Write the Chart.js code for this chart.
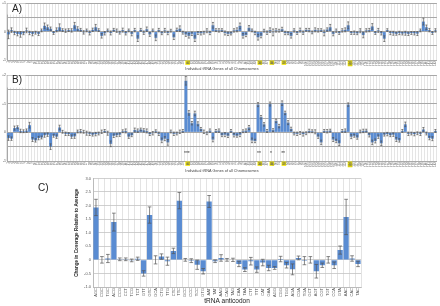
<!DOCTYPE html>
<html>
<head>
<meta charset="utf-8">
<script src="https://cdn.jsdelivr.net/npm/chart.js@4.4.0/dist/chart.umd.min.js"></script>
<style>
  html, body { margin: 0; padding: 0; background: #fff; width: 440px; height: 306px; overflow: hidden; }
  .panel { position: absolute; left: 0; }
</style>
</head>
<body>
<div class="panel" style="top:0px"><canvas id="chartA" width="440" height="72"></canvas></div>
<div class="panel" style="top:72px"><canvas id="chartB" width="440" height="102"></canvas></div>
<div class="panel" style="top:174px"><canvas id="chartC" width="440" height="132"></canvas></div>
<script>
// panel A - coverage change per tRNA gene
const geneValuesA = [
  -0.1, 0.05, -0.05, -0.08, -0.1, -0.06, 0.04, -0.05, -0.08, -0.04,
  -0.08, 0.04, 0.2, 0.15, 0.1, -0.05, 0.06, 0.15, 0.05, 0.03,
  0.05, 0.04, 0.22, 0.1, 0.06, -0.03, 0.04, -0.05, 0.06, 0.15,
  0.05, -0.15, -0.06, 0.04, -0.05, 0.06, 0.03, -0.04, 0.05, -0.06,
  0.04, -0.08, 0.05, -0.25, 0.06, -0.04, 0.08, -0.1, 0.04, -0.22,
  0.05, -0.06, 0.04, -0.05, 0.03, -0.2, 0.06, 0.1, -0.04, -0.1,
  -0.15, -0.08, -0.25, -0.05, -0.06, -0.04, 0.03, -0.05, 0.22, 0.05,
  0.04, 0.05, -0.05, -0.08, -0.07, 0.04, 0.06, 0.2, -0.15, -0.12,
  0.13, 0.04, -0.05, -0.2, -0.15, 0.03, -0.04, 0.05, -0.03, 0.04,
  0.03, 0.08, -0.05, -0.06, -0.15, 0.04, -0.05, 0.05, -0.04, 0.06,
  0.05, -0.03, 0.06, 0.04, 0.05, -0.05, 0.07, 0.15, -0.08, 0.03,
  -0.05, 0.04, 0.06, 0.22, -0.05, -0.04, -0.06, 0.03, -0.12, 0.04,
  0.05, 0.18, -0.05, 0.04, -0.06, -0.25, 0.05, -0.05, -0.06, -0.08,
  -0.05, -0.07, -0.06, -0.08, -0.05, -0.06, -0.07, 0.04, 0.35, 0.15, 0.05, -0.05, 0.04
];
const geneErrorsA = [
  0.15, 0.08, 0.06, 0.07, 0.1, 0.05, 0.08, 0.06, 0.07, 0.05,
  0.06, 0.05, 0.1, 0.08, 0.06, 0.05, 0.07, 0.12, 0.05, 0.06,
  0.05, 0.06, 0.1, 0.07, 0.05, 0.06, 0.05, 0.07, 0.06, 0.1,
  0.05, 0.08, 0.06, 0.05, 0.07, 0.05, 0.06, 0.05, 0.07, 0.06,
  0.05, 0.07, 0.06, 0.1, 0.05, 0.06, 0.08, 0.07, 0.05, 0.1,
  0.06, 0.05, 0.07, 0.06, 0.05, 0.08, 0.06, 0.1, 0.05, 0.07,
  0.08, 0.06, 0.1, 0.05, 0.06, 0.05, 0.07, 0.06, 0.1, 0.05,
  0.06, 0.05, 0.07, 0.06, 0.05, 0.06, 0.07, 0.1, 0.08, 0.06,
  0.08, 0.05, 0.06, 0.1, 0.07, 0.05, 0.06, 0.08, 0.12, 0.06,
  0.05, 0.07, 0.06, 0.05, 0.08, 0.06, 0.05, 0.07, 0.06, 0.05,
  0.06, 0.05, 0.07, 0.06, 0.05, 0.1, 0.06, 0.1, 0.07, 0.06,
  0.05, 0.06, 0.07, 0.12, 0.05, 0.06, 0.05, 0.07, 0.1, 0.06,
  0.06, 0.1, 0.05, 0.07, 0.06, 0.1, 0.05, 0.06, 0.07, 0.05,
  0.06, 0.05, 0.07, 0.06, 0.05, 0.06, 0.07, 0.05, 0.12, 0.08, 0.06, 0.05, 0.06
];

// panel B
const geneValuesB = [
  -0.2, -0.22, 0.15, 0.18, 0.05, 0.04, 0.06, 0.25, -0.25, -0.28,
  -0.2, -0.18, -0.1, -0.08, -0.5, -0.12, -0.15, 0.17, 0.02, -0.05,
  -0.06, -0.15, -0.14, 0.03, 0.04, 0.02, -0.03, -0.05, -0.08, -0.06,
  -0.04, 0.02, 0.05, -0.03, -0.4, -0.12, -0.1, -0.08, 0.04, 0.05,
  -0.15, -0.1, 0.08, 0.06, 0.1, 0.07, 0.05, -0.06, -0.03, 0.04,
  -0.05, -0.28, -0.22, -0.35, 0.03, -0.05, -0.04, 0.02, 0.05, 1.8,
  0.68, 0.32, 0.66, 0.3, 0.12, 0.02, -0.03, 0.06, -0.25, 0.05,
  0.06, -0.1, -0.08, -0.12, 0.05, -0.1, -0.12, -0.08, 0.04, 0.06,
  0.17, -0.28, -0.3, 0.97, 0.53, 0.28, 0.05, 0.99, 0.08, 0.4,
  0.22, 1.02, 0.68, 0.34, 0.12, -0.04, -0.05, -0.02, -0.06, -0.03,
  0.05, 0.04, 0.02, -0.15, -0.35, 0.05, 0.04, 0.06, -0.25, -0.3,
  -0.38, 0.05, 0.06, 0.97, -0.15, -0.12, -0.18, 0.03, 0.05, 0.06,
  -0.1, -0.35, -0.3, -0.15, -0.38, -0.08, -0.06, -0.1, -0.08, -0.25,
  -0.28, 0.05, 0.28, -0.05, -0.04, -0.06, -0.03, -0.05, 0.1, -0.04, -0.2, -0.22, 0.05
];
const geneErrorsB = [
  0.08, 0.06, 0.07, 0.05, 0.06, 0.05, 0.06, 0.1, 0.07, 0.06,
  0.06, 0.05, 0.07, 0.06, 0.1, 0.05, 0.06, 0.08, 0.05, 0.06,
  0.05, 0.06, 0.07, 0.05, 0.06, 0.05, 0.07, 0.06, 0.05, 0.06,
  0.05, 0.06, 0.05, 0.07, 0.1, 0.06, 0.05, 0.06, 0.05, 0.07,
  0.06, 0.05, 0.07, 0.06, 0.05, 0.06, 0.07, 0.05, 0.06, 0.05,
  0.06, 0.08, 0.07, 0.1, 0.05, 0.06, 0.05, 0.06, 0.05, 0.15,
  0.08, 0.06, 0.08, 0.07, 0.05, 0.06, 0.05, 0.06, 0.08, 0.05,
  0.06, 0.05, 0.07, 0.06, 0.05, 0.06, 0.05, 0.07, 0.05, 0.06,
  0.07, 0.08, 0.06, 0.07, 0.06, 0.06, 0.05, 0.07, 0.05, 0.06,
  0.06, 0.08, 0.06, 0.07, 0.06, 0.05, 0.06, 0.05, 0.07, 0.05,
  0.06, 0.05, 0.07, 0.06, 0.08, 0.05, 0.06, 0.05, 0.07, 0.06,
  0.08, 0.05, 0.06, 0.06, 0.07, 0.05, 0.06, 0.05, 0.06, 0.05,
  0.06, 0.08, 0.07, 0.06, 0.08, 0.05, 0.06, 0.05, 0.06, 0.07,
  0.06, 0.05, 0.08, 0.06, 0.05, 0.06, 0.05, 0.06, 0.07, 0.05, 0.06, 0.07, 0.05
];

// genes with highlighted labels, and significance marks under B
const highlightedGenes = [59, 83, 87, 91, 113];
const starMarksB = { 59: '***', 83: '**', 87: '*', 91: '**' };

// panel C - per anticodon
const anticodons = [
  'AGC', 'CGC', 'TGC', 'ACG', 'CCG', 'CCT', 'TCG', 'TCT', 'GTT', 'GTC',
  'GCA', 'CTG', 'TTG', 'CTC', 'TTC', 'GCC', 'CCC', 'TCC', 'GTG', 'AAT',
  'TAT', 'AAG', 'CAG', 'TAG', 'CAA', 'TAA', 'CTT', 'TTT', 'CAT', 'GAA',
  'AGG', 'CGG', 'TGG', 'AGA', 'CGA', 'TGA', 'GCT', 'AGT', 'CGT', 'TGT',
  'CCA', 'GTA', 'AAC', 'CAC', 'TAC'
];
const anticodonValues = [
  1.93, 0.0, 0.05, 1.39, 0.02, 0.02, -0.02, 0.04, -0.5, 1.65,
  0.0, 0.12, -0.05, 0.33, 2.18, 0.0, -0.03, -0.18, -0.42, 2.15,
  -0.05, 0.07, 0.0, 0.0, -0.15, -0.36, -0.05, -0.36, -0.1, -0.3,
  -0.3, 0.03, -0.2, -0.35, 0.07, -0.03, 0.0, -0.42, -0.2, 0.0,
  -0.2, 0.36, 1.58, 0.05, -0.15
];
const anticodonErrors = [
  0.3, 0.12, 0.15, 0.33, 0.05, 0.05, 0.05, 0.06, 0.1, 0.3,
  0.15, 0.1, 0.15, 0.1, 0.3, 0.05, 0.07, 0.17, 0.1, 0.22,
  0.05, 0.12, 0.05, 0.06, 0.1, 0.07, 0.14, 0.1, 0.12, 0.1,
  0.05, 0.1, 0.1, 0.2, 0.07, 0.15, 0.12, 0.25, 0.08, 0.12,
  0.12, 0.15, 0.65, 0.1, 0.1
];

Chart.defaults.font.family = '"Liberation Sans", Arial, sans-serif';
Chart.defaults.color = '#555';
Chart.defaults.animation = false;

const barBlue = '#5a8cd2';

// error bars drawn through the chart's own scales
function errorBars(values, errors) {
  return {
    id: 'errorBars',
    afterDatasetsDraw(chart) {
      const ctx = chart.ctx;
      const y = chart.scales.y;
      const bars = chart.getDatasetMeta(0).data;
      ctx.save();
      ctx.strokeStyle = '#555';
      ctx.lineWidth = 0.7;
      bars.forEach((bar, i) => {
        const top = y.getPixelForValue(values[i] + errors[i]);
        const bot = y.getPixelForValue(values[i] - errors[i]);
        const cap = Math.min(bar.width * 0.35, 2);
        ctx.beginPath();
        ctx.moveTo(bar.x, top); ctx.lineTo(bar.x, bot);
        ctx.moveTo(bar.x - cap, top); ctx.lineTo(bar.x + cap, top);
        ctx.moveTo(bar.x - cap, bot); ctx.lineTo(bar.x + cap, bot);
        ctx.stroke();
      });
      ctx.restore();
    }
  };
}

// panel letter (with a white patch behind it)
function panelLetter(text, x, y, boxW, boxH) {
  return {
    id: 'panelLetter',
    afterDraw(chart) {
      const ctx = chart.ctx;
      ctx.save();
      if (boxW) {
        ctx.fillStyle = '#fff';
        ctx.fillRect(chart.chartArea.left + 0.5, chart.chartArea.top + 0.5, boxW, boxH);
      }
      ctx.fillStyle = '#222';
      ctx.font = '10px "Liberation Sans", Arial, sans-serif';
      ctx.textBaseline = 'middle';
      ctx.fillText(text, x, y);
      ctx.restore();
    }
  };
}

const starsPlugin = {
  id: 'stars',
  afterDraw(chart) {
    const ctx = chart.ctx;
    const x = chart.scales.x, y = chart.scales.y;
    ctx.save();
    ctx.fillStyle = '#333';
    ctx.font = '5px "Liberation Sans", Arial, sans-serif';
    ctx.textAlign = 'center';
    ctx.textBaseline = 'middle';
    Object.keys(starMarksB).forEach(k => {
      ctx.fillText(starMarksB[k], x.getPixelForValue(Number(k)) + 1, y.getPixelForValue(-0.74));
    });
    ctx.restore();
  }
};

function isWhole(v) { return Math.abs(v - Math.round(v)) < 1e-6; }
function signedTick(v) {
  if (!isWhole(v)) return '';
  const r = Math.round(v);
  return r > 0 ? '+' + r : String(r);
}

function geneChart(id, values, errors, yMin, yMax, padTop, xHeight, extraPlugins) {
  const labels = values.map((_, i) => String(i + 1));
  return new Chart(document.getElementById(id), {
    type: 'bar',
    data: {
      labels: labels,
      datasets: [{
        data: values,
        backgroundColor: barBlue,
        borderWidth: 0,
        barPercentage: 0.95,
        categoryPercentage: 1.0
      }]
    },
    options: {
      responsive: false,
      layout: { padding: { top: padTop, right: 2, left: 0, bottom: 0 } },
      plugins: { legend: { display: false }, tooltip: { enabled: false } },
      scales: {
        x: {
          afterFit: s => { s.height = xHeight; },
          grid: { color: '#d4d4d4', lineWidth: 0.6, drawTicks: false, offset: true },
          border: { color: '#aaa', dash: [] },
          ticks: {
            autoSkip: false, minRotation: 90, maxRotation: 90, padding: 1,
            font: { size: 3 }, color: '#666',
            showLabelBackdrop: c => highlightedGenes.includes(c.index),
            backdropColor: '#f2e600',
            backdropPadding: 0.5
          },
          title: {
            display: true, text: 'Individual tRNA Genes of all Chromosomes',
            font: { size: 3.8 }, color: '#444', padding: { top: 0, bottom: 1 }
          }
        },
        y: {
          min: yMin, max: yMax,
          afterFit: s => { s.width = 7; },
          grid: { color: '#a8a8a8', lineWidth: 1, drawTicks: false },
          border: { color: '#a8a8a8' },
          ticks: { stepSize: 0.5, font: { size: 3.5 }, color: '#555', padding: 1, callback: signedTick }
        }
      }
    },
    plugins: [errorBars(values, errors)].concat(extraPlugins)
  });
}

geneChart('chartA', geneValuesA, geneErrorsA, -1, 1, 2, 12,
  [panelLetter('A)', 12, 9, 18, 11)]);
geneChart('chartB', geneValuesB, geneErrorsB, -1, 2, 1, 13,
  [panelLetter('B)', 12, 8, 18, 12), starsPlugin]);

new Chart(document.getElementById('chartC'), {
  type: 'bar',
  data: {
    labels: anticodons,
    datasets: [{
      data: anticodonValues,
      backgroundColor: barBlue,
      borderWidth: 0,
      barPercentage: 0.88,
      categoryPercentage: 1.0
    }]
  },
  options: {
    responsive: false,
    layout: { padding: { top: 3, right: 79, left: 74, bottom: 0 } },
    plugins: { legend: { display: false }, tooltip: { enabled: false } },
    scales: {
      x: {
        afterFit: s => { s.height = 19; },
        grid: { color: '#d0d0d0', lineWidth: 0.6, drawTicks: false, offset: true },
        border: { color: '#bbb' },
        ticks: { autoSkip: false, minRotation: 90, maxRotation: 90, padding: 1, font: { size: 4 }, color: '#555' },
        title: {
          display: true, text: 'tRNA anticodon',
          font: { size: 6.5 }, color: '#222', padding: { top: 0, bottom: 1 }
        }
      },
      y: {
        min: -1, max: 3,
        afterFit: s => { s.width = 19; },
        grid: { color: '#c4c4c4', lineWidth: 0.8, drawTicks: false },
        border: { color: '#bbb' },
        ticks: { stepSize: 0.5, font: { size: 4 }, color: '#555', padding: 2 },
        title: {
          display: true, text: 'Change in Coverage Relative to Average',
          font: { size: 4.6, weight: 'bold' }, color: '#222', padding: 0
        }
      }
    }
  },
  plugins: [errorBars(anticodonValues, anticodonErrors), panelLetter('C)', 38, 14, 0, 0)]
});
</script>
</body>
</html>
